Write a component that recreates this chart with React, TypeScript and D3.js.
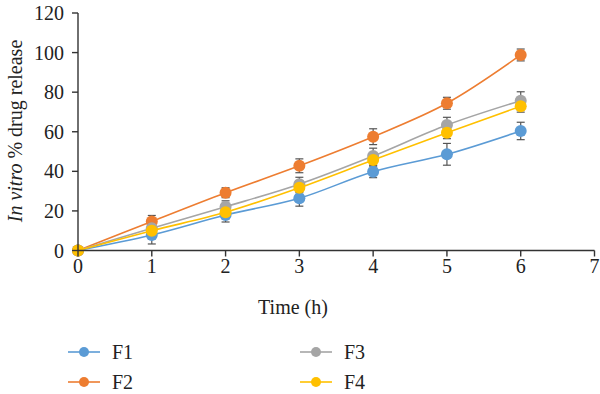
import React from 'react';
import * as d3 from 'd3';

const times = [0, 1, 2, 3, 4, 5, 6];
const seriesNames = ['F1', 'F2', 'F3', 'F4'];
const colors = ['#5B9BD5', '#ED7D31', '#A5A5A5', '#FFC000'];

const f1 = [0, 7.8, 17.9, 26.4, 39.8, 48.6, 60.4];
const f2 = [0, 14.7, 29.2, 42.8, 57.5, 74.4, 98.8];
const f3 = [0, 11.2, 22.1, 33.5, 47.7, 63.4, 75.7];
const f4 = [0, 10.0, 19.3, 31.7, 45.7, 59.5, 72.9];

const f1Err = [0, 4.5, 3.5, 4, 3, 5.5, 4.4];
const f2Err = [0, 3, 2.5, 3.5, 4, 3, 3];
const f3Err = [0, 4, 3, 3.5, 4, 3.9, 4.5];
const f4Err = [0, 3, 2.5, 2.5, 3, 3, 3];

const yTicks = [0, 20, 40, 60, 80, 100, 120];
const xTicks = [0, 1, 2, 3, 4, 5, 6, 7];

const allValues = [f1, f2, f3, f4];
const allErrors = [f1Err, f2Err, f3Err, f4Err];

const W = 600;
const H = 394;
const font = '"Liberation Serif", "Times New Roman", serif';

const App: React.FC = () => {
  const x = d3.scaleLinear().domain([0, 7]).range([78, 594.5]);
  const y = d3.scaleLinear().domain([0, 120]).range([250.5, 13]);

  const line = d3
    .line<number>()
    .x((_, i) => x(times[i]))
    .y((d) => y(d))
    .curve(d3.curveCatmullRom.alpha(0.5));

  const axisColor = '#333';

  return (
    <svg
      width={W}
      height={H}
      style={{ position: 'absolute', left: 0, top: 0, background: '#fff' }}
      fontFamily={font}
    >
      {/* error bars */}
      {allValues.map((vals, si) => (
        <g key={'err' + si} stroke="#555" strokeWidth={1.2}>
          {vals.map((v, i) =>
            allErrors[si][i] > 0 ? (
              <g key={i}>
                <line x1={x(times[i])} x2={x(times[i])} y1={y(v - allErrors[si][i])} y2={y(v + allErrors[si][i])} />
                <line x1={x(times[i]) - 4} x2={x(times[i]) + 4} y1={y(v - allErrors[si][i])} y2={y(v - allErrors[si][i])} />
                <line x1={x(times[i]) - 4} x2={x(times[i]) + 4} y1={y(v + allErrors[si][i])} y2={y(v + allErrors[si][i])} />
              </g>
            ) : null
          )}
        </g>
      ))}

      {/* lines and markers */}
      {allValues.map((vals, si) => (
        <g key={'s' + si}>
          <path d={line(vals) || ''} fill="none" stroke={colors[si]} strokeWidth={1.6} />
          {vals.map((v, i) => (
            <circle key={i} cx={x(times[i])} cy={y(v)} r={6} fill={colors[si]} />
          ))}
        </g>
      ))}

      {/* y axis */}
      <line x1={x(0)} x2={x(0)} y1={y(0)} y2={y(120)} stroke={axisColor} strokeWidth={1.4} />
      {yTicks.map((t) => (
        <g key={'yt' + t}>
          <line x1={x(0) - 6} x2={x(0)} y1={y(t)} y2={y(t)} stroke={axisColor} strokeWidth={1.4} />
          <text x={64} y={y(t)} dy="0.35em" textAnchor="end" fontSize={20} fill="#222">
            {t}
          </text>
        </g>
      ))}

      {/* x axis */}
      <line x1={x(0)} x2={x(7)} y1={y(0)} y2={y(0)} stroke={axisColor} strokeWidth={1.4} />
      {xTicks.map((t) => (
        <g key={'xt' + t}>
          <line x1={x(t)} x2={x(t)} y1={y(0)} y2={y(0) + 6} stroke={axisColor} strokeWidth={1.4} />
          <text x={x(t)} y={273} textAnchor="middle" fontSize={20} fill="#222">
            {t}
          </text>
        </g>
      ))}

      <text x={293} y={314} textAnchor="middle" fontSize={20} fill="#222">
        Time (h)
      </text>

      <text transform="translate(22,131) rotate(-90)" textAnchor="middle" fontSize={20} fill="#222">
        <tspan fontStyle="italic">In vitro</tspan> % drug release
      </text>

      {/* legend */}
      {seriesNames.map((name, i) => {
        const col = Math.floor(i / 2);
        const row = i % 2;
        const lx = col === 0 ? 68 : 300;
        const ly = row === 0 ? 352 : 382;
        return (
          <g key={name}>
            <line x1={lx} x2={lx + 32} y1={ly} y2={ly} stroke={colors[i]} strokeWidth={1.6} />
            <circle cx={lx + 16} cy={ly} r={5} fill={colors[i]} />
            <text x={lx + 44} y={ly} dy="0.35em" fontSize={20} fill="#222">
              {name}
            </text>
          </g>
        );
      })}
    </svg>
  );
};

export default App;
